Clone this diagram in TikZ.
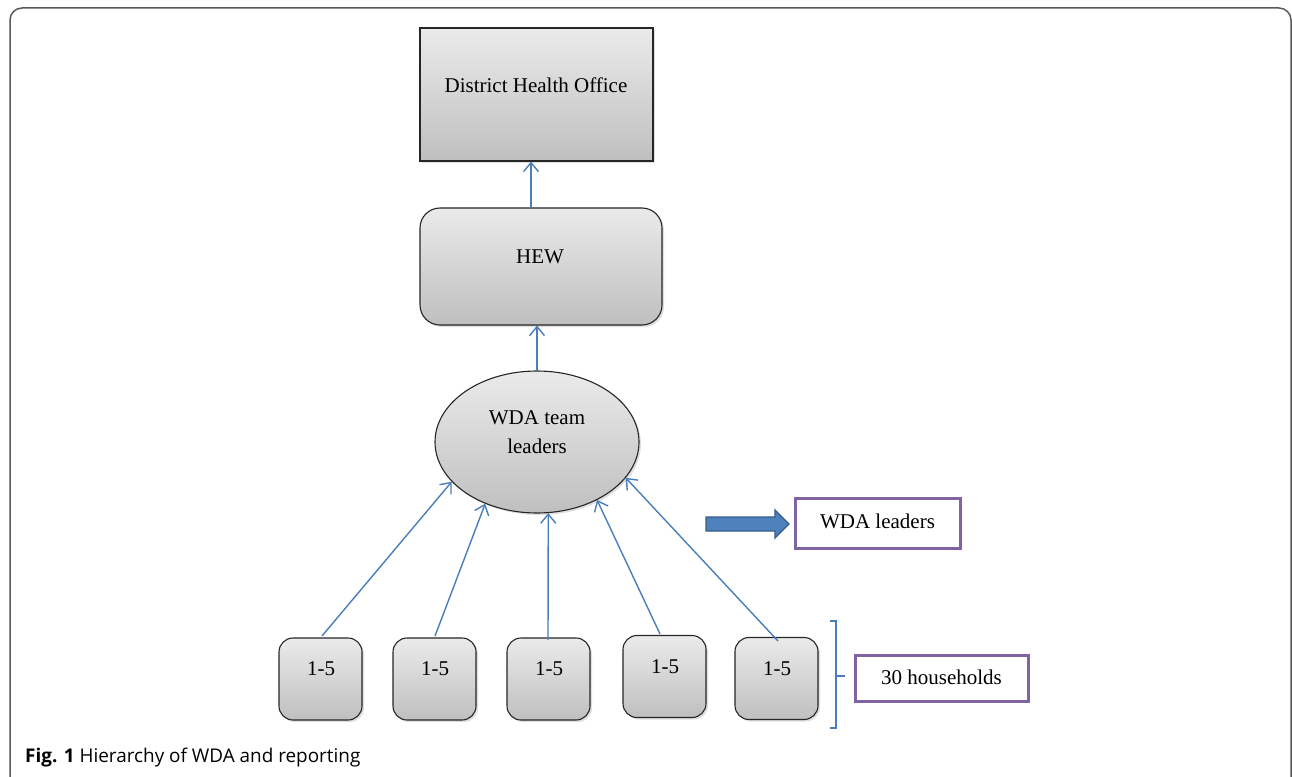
\documentclass[tikz,border=0pt]{standalone}
\usepackage{fontspec}
\setmainfont{Liberation Serif}
\newfontfamily\capfont{Open Sans}
\usetikzlibrary{shapes.geometric,arrows.meta,shadows}
\definecolor{conblue}{HTML}{4A7EBB}
\definecolor{arrfill}{HTML}{4F81BD}
\definecolor{arrline}{HTML}{385D8A}
\definecolor{purp}{HTML}{8064A2}
\definecolor{frame}{HTML}{5A5A5A}
\begin{document}
\begin{tikzpicture}[x=1pt,y=-1pt,
  shade box/.style={draw=black!85, line width=1.1pt, top color=gray!16, bottom color=gray!50,
    drop shadow={shadow xshift=2pt, shadow yshift=-2pt, opacity=0.25}},
  sqbox/.style={shade box, rectangle, inner sep=0pt},
  rbox/.style={shade box, rectangle, rounded corners=20pt, inner sep=0pt},
  hbox/.style={shade box, rectangle, rounded corners=14pt, inner sep=0pt, minimum width=83pt, minimum height=82pt},
  oval/.style={shade box, ellipse, inner sep=0pt},
  lbl/.style={font=\fontsize{21}{25}\selectfont, inner sep=0pt, align=center},
  pbox/.style={draw=purp, line width=3pt, fill=white, inner sep=0pt},
  conn/.style={draw=conblue, line width=1.4pt, -{Straight Barb[length=9pt,width=15pt,line width=1.4pt]}},
]
\useasboundingbox (0,0) rectangle (1292,776);
\fill[white] (0,0) rectangle (1292,776);
% outer frame
\draw[frame, line width=1.5pt, rounded corners=12pt] (10,8) rectangle (1291,790);

% District Health Office
\node[sqbox, minimum width=233pt, minimum height=133pt] (dho) at (536.5,94.5) {};
\node[lbl] (dhot) at (536,85) {District Health Office};

% HEW
\node[rbox, minimum width=242pt, minimum height=117pt] (hew) at (541,266.5) {};
\node[lbl] (hewt) at (540,257) {HEW};

% WDA team leaders ellipse
\node[oval, minimum width=204pt, minimum height=142pt] (wda) at (537,442) {};
\node[lbl, font=\fontsize{21}{29}\selectfont] (wdat) at (537,432) {WDA team\\leaders};

% household groups
\node[hbox] (b1) at (320.5,679) {};
\node[hbox] (b2) at (434.5,679) {};
\node[hbox] (b3) at (548.5,679) {};
\node[hbox] (b4) at (664.5,676.5) {};
\node[hbox] (b5) at (776.5,678.5) {};
\node[lbl] (t1) at (321,669) {1-5};
\node[lbl] (t2) at (435,669) {1-5};
\node[lbl] (t3) at (549,669) {1-5};
\node[lbl] (t4) at (665,667) {1-5};
\node[lbl] (t5) at (777,669) {1-5};

% connectors
\draw[conn] ([xshift=-10pt]hew.north) -- ([xshift=-5.5pt]dho.south);
\draw[conn] (wda.north) -- ([xshift=-4pt]hew.south);
\coordinate (s1) at (322,636);
\coordinate (s2) at (435,636);
\coordinate (s3) at (548,640);
\coordinate (s4) at (660,634);
\coordinate (s5) at (778,641);
\draw[conn] (s1) -- (wda.205);
\draw[conn] (s2) -- (wda.230);
\draw[conn] (s3) -- (wda.279);
\draw[conn] (s4) -- (wda.316);
\draw[conn] (s5) -- (wda.338);

% thick block arrow
\draw[arrline, fill=arrfill, line width=1.3pt, line join=miter]
  (706,517) -- (775,517) -- (775,510) -- (789,524) -- (775,538) -- (775,531) -- (706,531) -- cycle;

% WDA leaders box
\node[pbox, minimum width=165pt, minimum height=50pt] (wdal) at (877.5,523) {};
\node[lbl] (wdalt) at (877.5,521) {WDA leaders};

% bracket
\coordinate (bt) at (830,621);
\coordinate (bb) at (830,728);
\coordinate (bm) at (845,676);
\draw[conblue, line width=1.2pt] (bt) -- (836,621) -- (836,728) -- (bb);
\draw[conblue, line width=1.2pt] (836,676) -- (bm);

% 30 households box
\node[pbox, minimum width=173pt, minimum height=46pt] (hh) at (941.5,678) {};
\node[lbl] (hht) at (941.5,677) {30 households};

% caption
\node[anchor=base west, inner sep=0pt, font=\capfont\fontsize{18.9}{22}\selectfont] (cap) at (25,762)
  {\textbf{Fig. 1} Hierarchy of WDA and reporting};
\end{tikzpicture}
\end{document}
